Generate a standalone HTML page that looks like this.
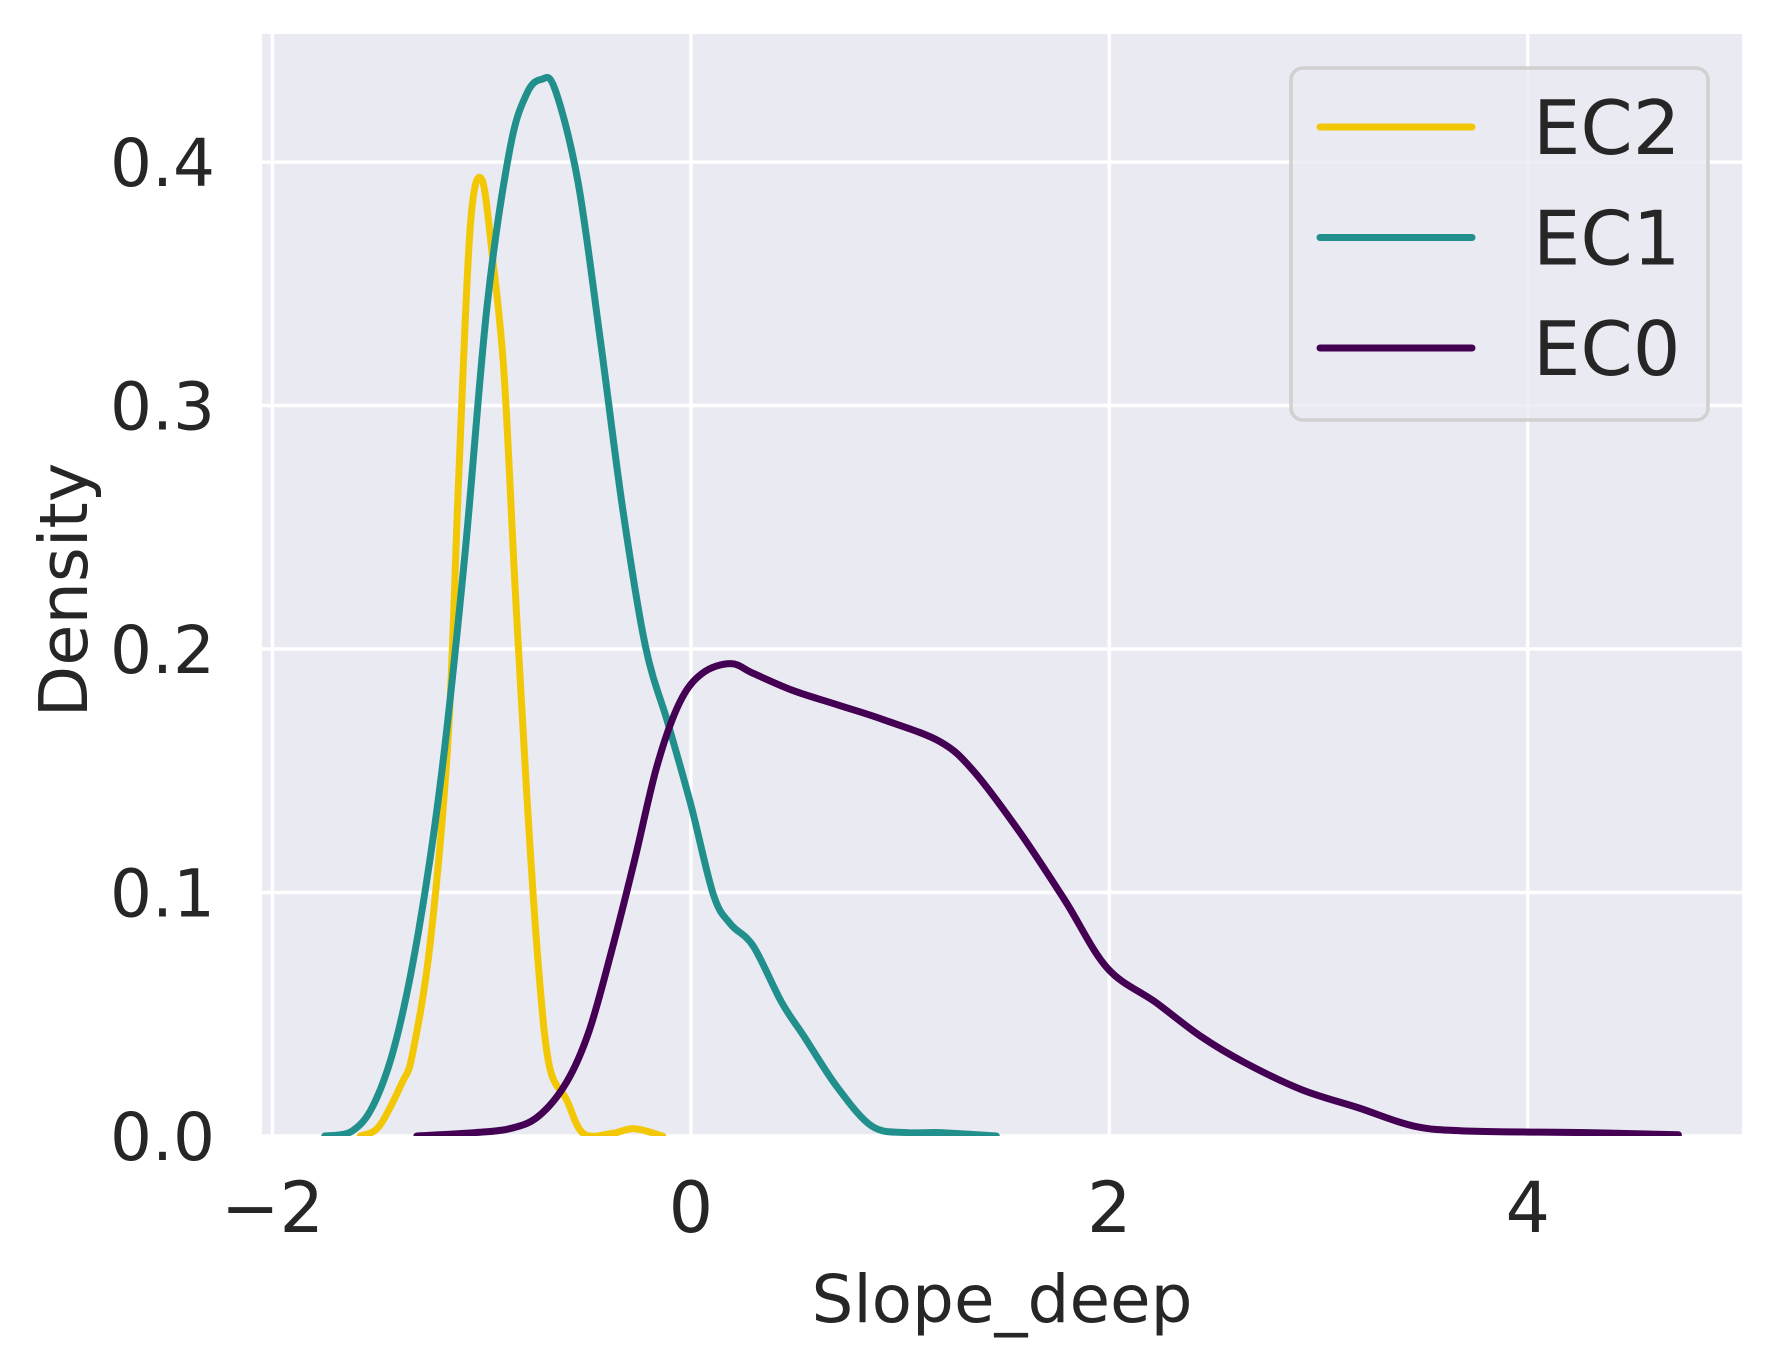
<!DOCTYPE html>
<html><head><meta charset="utf-8"><style>
html,body{margin:0;padding:0;background:#fff;}
svg{display:block;font-family:"DejaVu Sans","Liberation Sans",sans-serif;}
</style></head><body>
<svg id="chart" width="1776" height="1366" viewBox="0 0 1776 1366" xmlns="http://www.w3.org/2000/svg">
<defs><clipPath id="pc"><rect x="262" y="34" width="1480" height="1102"/></clipPath></defs>
<rect x="262" y="34" width="1480" height="1102" fill="#eaeaf2"/>
<g id="grid"></g>
<g id="xticks"></g>
<g id="yticks"></g>
<g id="series" clip-path="url(#pc)"></g>
<text x="1002" y="1322" font-size="66" fill="#262626" text-anchor="middle">Slope_deep</text>
<text transform="translate(87,590) rotate(-90)" font-size="67" fill="#262626" text-anchor="middle">Density</text>
<g>
<rect x="1291" y="68" width="417" height="352" rx="12" fill="#eaeaf2" fill-opacity="0.8" stroke="#d0d0d0" stroke-width="3.5"/>
<g id="legend-items"></g>
</g>
</svg>
<script>
const xTicks = [-2, 0, 2, 4];
const xTickLabels = ["\u22122", "0", "2", "4"];
const yTicks = [0.0, 0.1, 0.2, 0.3, 0.4];
const yTickLabels = ["0.0", "0.1", "0.2", "0.3", "0.4"];
const seriesNames = ["EC2", "EC1", "EC0"];
const seriesColors = ["#f2c806", "#21908d", "#440154"];
const ec2X = [-1.58,-1.49,-1.38,-1.33,-1.245,-1.16,-1.11,-1.055,-1.0,-0.947,-0.893,-0.84,-0.785,-0.73,-0.677,-0.595,-0.514,-0.38,-0.27,-0.135];
const ec2Y = [0,0.004,0.022,0.034,0.08,0.164,0.27,0.373,0.393,0.36,0.313,0.225,0.141,0.071,0.029,0.015,0.001,0.001,0.003,0];
const ec1X = [-1.75,-1.62,-1.516,-1.41,-1.3,-1.19,-1.08,-0.974,-0.866,-0.785,-0.714,-0.65,-0.54,-0.433,-0.325,-0.217,-0.108,0,0.108,0.19,0.298,0.433,0.54,0.70,0.866,1.03,1.19,1.46];
const ec1Y = [0,0.002,0.013,0.039,0.085,0.15,0.239,0.341,0.405,0.428,0.434,0.43,0.392,0.327,0.257,0.201,0.169,0.136,0.099,0.087,0.078,0.055,0.041,0.02,0.004,0.0014,0.0014,0];
const ec0X = [-1.31,-1.03,-0.866,-0.73,-0.595,-0.487,-0.379,-0.27,-0.162,-0.054,0.054,0.19,0.298,0.487,0.704,0.92,1.19,1.35,1.57,1.786,1.99,2.22,2.436,2.65,2.92,3.19,3.46,3.73,4.28,4.72];
const ec0Y = [0,0.0014,0.003,0.008,0.022,0.043,0.076,0.113,0.152,0.178,0.19,0.194,0.19,0.183,0.177,0.171,0.162,0.15,0.125,0.097,0.069,0.055,0.041,0.030,0.019,0.0116,0.004,0.002,0.0014,0.0005];

const L=262,R=1742,T=34,B=1136, XMIN=-2.05, XMAX=5.024, YMIN=0, YMAX=0.4526;
function sx(v){return L+(v-XMIN)/(XMAX-XMIN)*(R-L);}
function sy(v){return B-(v-YMIN)/(YMAX-YMIN)*(B-T);}
const NS="http://www.w3.org/2000/svg";
function mk(tag, attrs, parent){const e=document.createElementNS(NS,tag);for(const k in attrs)e.setAttribute(k,attrs[k]);parent.appendChild(e);return e;}
const grid=document.getElementById('grid');
xTicks.forEach((t,i)=>{
  const l=mk('line',{x1:sx(t),x2:sx(t),y1:T,y2:B,stroke:'#fff','stroke-width':3.5},grid);
  
  
  const tx=mk('text',{x:sx(t),y:1232,'font-size':70,fill:'#262626','text-anchor':'middle'},document.getElementById('xticks'));
  tx.textContent=xTickLabels[i];
  
  
});
yTicks.forEach((t,i)=>{
  const l=mk('line',{x1:L,x2:R,y1:sy(t),y2:sy(t),stroke:'#fff','stroke-width':3.5},grid);
  
  
  const tx=mk('text',{x:215,y:sy(t)+24,'font-size':66,fill:'#262626','text-anchor':'end'},document.getElementById('yticks'));
  tx.textContent=yTickLabels[i];
  
  
});
function pathFor(xs,ys){
  const p=xs.map((x,i)=>[sx(x),sy(ys[i])]);
  let d='M'+p[0][0]+','+p[0][1];
  for(let i=0;i<p.length-1;i++){
    const p0=p[Math.max(0,i-1)],p1=p[i],p2=p[i+1],p3=p[Math.min(p.length-1,i+2)];
    const c1=[p1[0]+(p2[0]-p0[0])/6,p1[1]+(p2[1]-p0[1])/6];
    const c2=[p2[0]-(p3[0]-p1[0])/6,p2[1]-(p3[1]-p1[1])/6];
    d+=' C'+c1[0]+','+c1[1]+' '+c2[0]+','+c2[1]+' '+p2[0]+','+p2[1];
  }
  return d;
}
const ser=document.getElementById('series');
const data=[[ec2X,ec2Y],[ec1X,ec1Y],[ec0X,ec0Y]];
data.forEach((s,i)=>{
  const p=mk('path',{d:pathFor(s[0],s[1]),fill:'none',stroke:seriesColors[i],'stroke-width':7,'stroke-linecap':'round','stroke-linejoin':'round'},ser);
  
  
});
const li=document.getElementById('legend-items');
seriesNames.forEach((n,i)=>{
  const y=127+i*110.5;
  const l=mk('line',{x1:1320,x2:1472,y1:y,y2:y,stroke:seriesColors[i],'stroke-width':7,'stroke-linecap':'round'},li);
  
  
  const t=mk('text',{x:1533,y:y+27,'font-size':75,fill:'#262626'},li);
  t.textContent=n;
  
  
});
</script>
</body></html>
